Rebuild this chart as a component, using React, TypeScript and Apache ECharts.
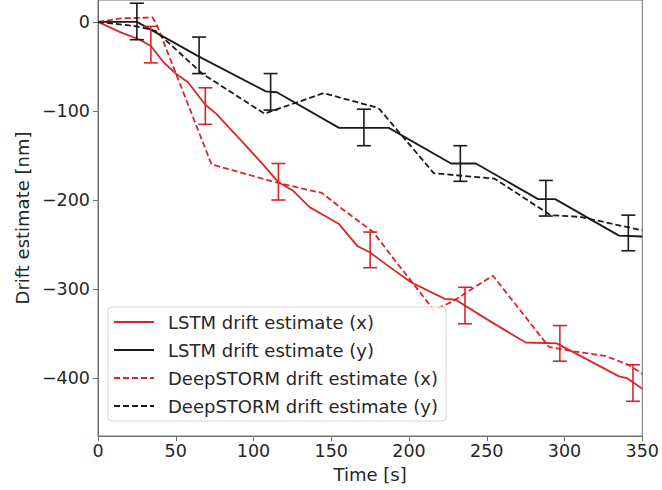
import React, { useEffect, useRef } from "react";
import * as echarts from "echarts";

// LSTM drift estimate (x) — red solid
const lstmXTime = [0, 15, 27, 34, 42, 50, 58, 69, 76, 85, 93, 105, 116, 125, 136, 146, 155, 167, 175, 185, 201, 223, 230, 252, 275, 295, 335, 340, 350];
const lstmXValue = [0, -12, -20, -27, -45, -58, -68, -93, -103, -120, -135, -158, -180, -189, -208, -218, -227, -252, -259, -272, -292, -311, -312, -336, -360, -361, -398, -400, -412];

// LSTM drift estimate (y) — black solid
const lstmYTime = [0, 25, 65, 108, 115, 155, 187, 227, 243, 283, 294, 335, 350];
const lstmYValue = [0, 0, -39, -78, -79, -119, -119, -159, -159, -199, -199, -240, -241];

// DeepSTORM drift estimate (x) — red dashed
const dsXTime = [0, 15, 35, 38, 73, 114, 136, 144, 157, 177, 191, 201, 216, 229, 242, 254, 290, 306, 326, 341, 350];
const dsXValue = [0, 4, 5, -4, -160, -180, -189, -192, -210, -236, -268, -290, -324, -313, -298, -285, -365, -370, -375, -385, -395];

// DeepSTORM drift estimate (y) — black dashed
const dsYTime = [0, 25, 37, 67, 107, 112, 145, 179, 181, 216, 255, 291, 310, 350];
const dsYValue = [0, -5, -10, -58, -103, -100, -80, -96, -98, -170, -176, -217, -219, -234];

// Error bars on LSTM (x) — red
const errXTime = [34, 69, 116, 175, 236, 297, 344];
const errXLow = [-46, -115, -200, -276, -339, -381, -426];
const errXHigh = [-5, -74, -159, -236, -298, -341, -385];

// Error bars on LSTM (y) — black
const errYTime = [25, 65, 111, 171, 233, 288, 341];
const errYLow = [-20, -58, -99, -139, -179, -218, -257];
const errYHigh = [21, -17, -58, -98, -139, -178, -217];

const xTicks = [0, 50, 100, 150, 200, 250, 300, 350];
const yTicks = [0, -100, -200, -300, -400];

const seriesNames = [
  "LSTM drift estimate (x)",
  "LSTM drift estimate (y)",
  "DeepSTORM drift estimate (x)",
  "DeepSTORM drift estimate (y)",
];

const RED = "#d62728";
const BLACK = "#1a1a1a";
const FONT = "DejaVu Sans";
const TEXT = "#262626";
const SPINE = "#707070";

const zip = (t: number[], v: number[]) => t.map((x, i) => [x, v[i]]);
const zip3 = (t: number[], a: number[], b: number[]) => t.map((x, i) => [x, a[i], b[i]]);

const fmt = (v: number) => (v < 0 ? "\u2212" + Math.abs(v) : String(v));

function errorBarSeries(data: number[][], color: string) {
  return {
    type: "custom",
    silent: true,
    clip: true,
    encode: { x: 0, y: [1, 2] },
    data,
    z: 3,
    renderItem: (params: any, api: any) => {
      const t = api.value(0);
      const lo = api.coord([t, api.value(1)]);
      const hi = api.coord([t, api.value(2)]);
      const hw = 7;
      const style = { stroke: color, lineWidth: 1.6, fill: "none" };
      return {
        type: "group",
        children: [
          { type: "line", shape: { x1: lo[0], y1: lo[1], x2: hi[0], y2: hi[1] }, style },
          { type: "line", shape: { x1: lo[0] - hw, y1: lo[1], x2: lo[0] + hw, y2: lo[1] }, style },
          { type: "line", shape: { x1: hi[0] - hw, y1: hi[1], x2: hi[0] + hw, y2: hi[1] }, style },
        ],
      };
    },
  };
}

function lineSeries(name: string, data: number[][], color: string, dashed: boolean) {
  return {
    name,
    type: "line",
    data,
    symbol: "none",
    showSymbol: false,
    clip: true,
    z: 2,
    lineStyle: { color, width: 1.8, type: dashed ? [6, 3] : "solid" },
    itemStyle: { color },
  };
}

export default function App() {
  const ref = useRef<HTMLDivElement>(null);
  useEffect(() => {
    if (!ref.current) return;
    const chart = echarts.init(ref.current, undefined, { renderer: "svg" });
    chart.setOption({
      animation: false,
      backgroundColor: "#ffffff",
      grid: {
        left: 98,
        right: 19,
        top: -1,
        bottom: 54,
        show: true,
        borderColor: SPINE,
        borderWidth: 1,
        backgroundColor: "transparent",
      },
      legend: {
        data: seriesNames,
        orient: "vertical",
        left: 108,
        top: 307,
        itemWidth: 40,
        itemHeight: 18,
        itemGap: 10,
        padding: [6, 8, 6, 5],
        backgroundColor: "rgba(255,255,255,0.85)",
        borderColor: "#d4d4d4",
        borderWidth: 1,
        borderRadius: 4,
        selectedMode: false,
        itemStyle: { opacity: 0 },
        textStyle: { fontFamily: FONT, fontSize: 18, color: TEXT, padding: [0, 0, 0, 9] },
      },
      xAxis: {
        type: "value",
        min: 0,
        max: 350,
        interval: 50,
        name: "Time [s]",
        nameLocation: "middle",
        nameGap: 29,
        nameTextStyle: { fontFamily: FONT, fontSize: 18, color: TEXT },
        axisLine: { show: true, onZero: false, lineStyle: { color: SPINE, width: 1 } },
        axisTick: { show: true, length: 5, lineStyle: { color: SPINE } },
        axisLabel: {
          fontFamily: FONT,
          fontSize: 17.5,
          color: TEXT,
          margin: 6,
          customValues: xTicks,
          formatter: (v: number) => fmt(v),
        },
        splitLine: { show: false },
      },
      yAxis: {
        type: "value",
        min: -465,
        max: 24.6,
        name: "Drift estimate [nm]",
        nameLocation: "middle",
        nameGap: 61,
        nameTextStyle: { fontFamily: FONT, fontSize: 18, color: TEXT },
        axisLine: { show: true, onZero: false, lineStyle: { color: SPINE, width: 1 } },
        axisTick: { show: true, length: 5, lineStyle: { color: SPINE }, customValues: yTicks },
        axisLabel: {
          fontFamily: FONT,
          fontSize: 17.5,
          color: TEXT,
          margin: 8,
          customValues: yTicks,
          formatter: (v: number) => fmt(v),
        },
        splitLine: { show: false },
      },
      series: [
        lineSeries(seriesNames[0], zip(lstmXTime, lstmXValue), RED, false),
        lineSeries(seriesNames[1], zip(lstmYTime, lstmYValue), BLACK, false),
        lineSeries(seriesNames[2], zip(dsXTime, dsXValue), RED, true),
        lineSeries(seriesNames[3], zip(dsYTime, dsYValue), BLACK, true),
        errorBarSeries(zip3(errXTime, errXLow, errXHigh), RED),
        errorBarSeries(zip3(errYTime, errYLow, errYHigh), BLACK),
      ],
    });
    return () => chart.dispose();
  }, []);
  return (
    <div
      ref={ref}
      style={{ position: "absolute", left: 0, top: 0, width: 662, height: 490 }}
    />
  );
}
